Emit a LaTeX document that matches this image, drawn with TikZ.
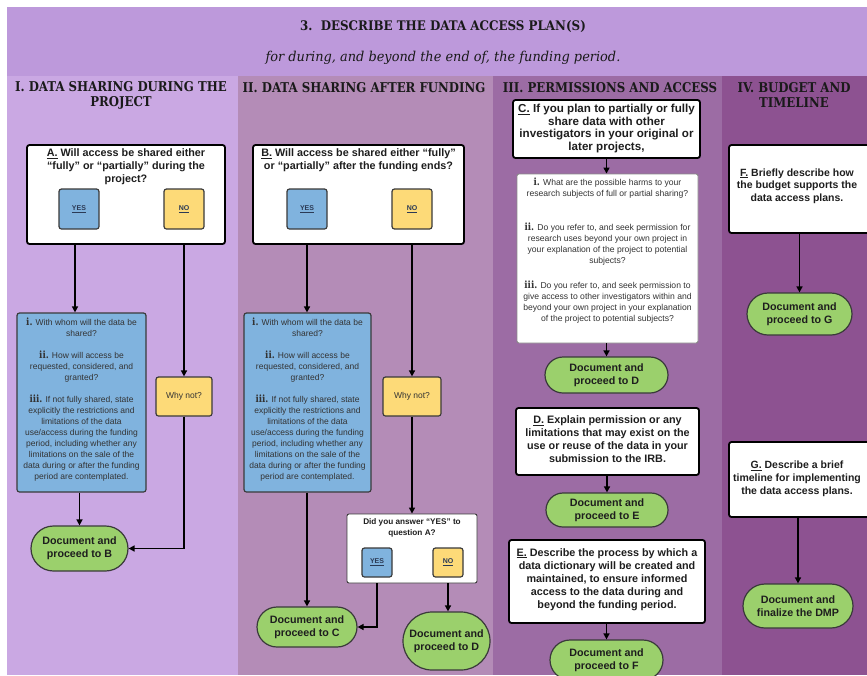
\documentclass[tikz,border=0pt]{standalone}
\usepackage{fontspec}
\setmainfont{Liberation Sans}
\newfontfamily\slabfont[FakeStretch=0.87]{DejaVu Serif}
\newfontfamily\titlefont[FakeStretch=0.9]{DejaVu Serif}
\newfontfamily\subfont[FakeStretch=0.95]{DejaVu Serif}
\usetikzlibrary{arrows.meta,shapes.misc}
\definecolor{hdr}{HTML}{BD99DB}
\definecolor{colA}{HTML}{CAA8E3}
\definecolor{colB}{HTML}{B48CB7}
\definecolor{colC}{HTML}{9C6CA4}
\definecolor{colD}{HTML}{8D5291}
\definecolor{bluebx}{HTML}{80B3DE}
\definecolor{yellbx}{HTML}{FDDA78}
\definecolor{greenbx}{HTML}{9BD06C}
\definecolor{edge}{HTML}{3A3A3A}
\definecolor{txt}{HTML}{1E1E1E}
\definecolor{txttwo}{HTML}{333333}
\definecolor{hdrtxt}{HTML}{1A1A1A}
\definecolor{btntxt}{HTML}{2B3A55}
\newcommand{\fs}[2]{\fontsize{#1}{#2}\selectfont}
\newcommand{\rn}[1]{{\slabfont\bfseries\fs{10}{11}#1}}
\begin{document}
\begin{tikzpicture}[x=1pt,y=-1pt,
  qbox/.style={draw=black,line width=1.8pt,fill=white,rounded corners=2.5pt,inner sep=0pt},
  subbox/.style={draw=edge,line width=0.9pt,fill=white,rounded corners=2pt,inner sep=0pt},
  bluebox/.style={draw=edge,line width=1.2pt,fill=bluebx,rounded corners=2.5pt,inner sep=0pt},
  yellbox/.style={draw=edge,line width=1.2pt,fill=yellbx,rounded corners=2.5pt,inner sep=0pt},
  docbox/.style={rounded rectangle,draw=edge,line width=1.2pt,fill=greenbx,inner sep=0pt,align=center,text=txt,font=\bfseries\fs{10.7}{13}},
  btntext/.style={font=\bfseries\fs{7}{8},text=btntxt},
  qtext/.style={align=center,text=txt,font=\bfseries\fs{10.8}{13}},
  smalltext/.style={align=center,text=txttwo,font=\fs{8.5}{11}},
  colhead/.style={align=center,text=hdrtxt,font=\slabfont\bfseries\fs{13.5}{15.5}},
  link/.style={line width=1.8pt,draw=black},
  arr/.style={link,-{Triangle[length=6pt,width=6pt]}},
]
\useasboundingbox (0,0) rectangle (867,675);
\clip (0,0) rectangle (867,675);
\fill[white] (0,0) rectangle (867,675);
% header and columns
\fill[hdr] (7,7) rectangle (867,76);
\fill[colA] (7,76) rectangle (238,675);
\fill[colB] (238,76) rectangle (493,675);
\fill[colC] (493,76) rectangle (722,675);
\fill[colD] (722,76) rectangle (867,675);
\node[text=hdrtxt,font=\titlefont\bfseries\fs{13.2}{15}] (title) at (443,27) {3.\ \ DESCRIBE THE DATA ACCESS PLAN(S)};
\node[text=hdrtxt,font=\subfont\itshape\fs{13.6}{15}] (subtitle) at (443,58) {for during, and beyond the end of, the funding period.};
\node[colhead] (h1) at (121,95.5) {I. DATA SHARING DURING THE\\PROJECT};
\node[colhead] (h2) at (364,87.5) {II. DATA SHARING AFTER FUNDING};
\node[colhead] (h3) at (610,87.5) {III. PERMISSIONS AND ACCESS};
\node[colhead] (h4) at (794,95) {IV. BUDGET AND\\TIMELINE};

% ---------- Column I ----------
\node[qbox,minimum width=198pt,minimum height=99pt] (A) at (126,194.5) {};
\node[qtext] (Atext) at (126,167) {\underline{A.} Will access be shared either\\``fully'' or ``partially'' during the\\project?};
\node[bluebox,minimum width=40pt,minimum height=40pt,btntext] (yes1) at (79,209) {\underline{YES}};
\node[yellbox,minimum width=40pt,minimum height=40pt,btntext] (no1) at (184,209) {\underline{NO}};
\node[bluebox,minimum width=129pt,minimum height=179pt] (blue1) at (81.5,402.5) {};
\node[smalltext] (blue1text) at (81.5,400) {\rn{i.} With whom will the data be\\shared?\\[11pt]
\rn{ii.} How will access be\\requested, considered, and\\granted?\\[11pt]
\rn{iii.} If not fully shared, state\\explicitly the restrictions and\\limitations of the data\\use/access during the funding\\period, including whether any\\limitations on the sale of the\\data during or after the funding\\period are contemplated.};
\node[yellbox,minimum width=56pt,minimum height=39pt,font=\fs{8.5}{10},text=txttwo] (why1) at (184,396.5) {Why not?};
\node[docbox,minimum width=97pt,minimum height=45pt] (docB) at (79.5,548.5) {Document and\\proceed to B};
\draw[arr] (A.south -| 75,0) -- (blue1.north -| 75,0);
\draw[arr] (A.south -| no1) -- (why1.north);
\draw[arr] (blue1.south -| docB.north) -- (docB.north);
\draw[arr] (why1.south) |- (docB.east);

% ---------- Column II ----------
\node[qbox,minimum width=211pt,minimum height=99pt] (B) at (358.5,194.5) {};
\node[qtext] (Btext) at (358.5,160.5) {\underline{B.} Will access be shared either ``fully''\\or ``partially'' after the funding ends?};
\node[bluebox,minimum width=40pt,minimum height=40pt,btntext] (yes2) at (307,209) {\underline{YES}};
\node[yellbox,minimum width=40pt,minimum height=40pt,btntext] (no2) at (412,209) {\underline{NO}};
\node[bluebox,minimum width=127pt,minimum height=179pt] (blue2) at (307.5,402.5) {};
\node[smalltext] (blue2text) at (307.5,400) {\rn{i.} With whom will the data be\\shared?\\[11pt]
\rn{ii.} How will access be\\requested, considered, and\\granted?\\[11pt]
\rn{iii.} If not fully shared, state\\explicitly the restrictions and\\limitations of the data\\use/access during the funding\\period, including whether any\\limitations on the sale of the\\data during or after the funding\\period are contemplated.};
\node[yellbox,minimum width=58pt,minimum height=39pt,font=\fs{8.5}{10},text=txttwo] (why2) at (412,396.5) {Why not?};
\node[subbox,minimum width=130pt,minimum height=69pt] (Q) at (412,548.5) {};
\node[align=center,text=txt,font=\bfseries\fs{8.2}{11}] (Qtext) at (412,527.5) {Did you answer ``YES'' to\\question A?};
\node[bluebox,minimum width=30pt,minimum height=29pt,btntext] (yes3) at (377,562.5) {\underline{YES}};
\node[yellbox,minimum width=30pt,minimum height=29pt,btntext] (no3) at (448,562.5) {\underline{NO}};
\node[docbox,minimum width=100pt,minimum height=40pt] (docC) at (307,627) {Document and\\proceed to C};
\node[docbox,minimum width=87pt,minimum height=58pt] (docD1) at (446.5,641) {Document and\\proceed to D};
\draw[arr] (B.south -| yes2) -- (blue2.north -| yes2);
\draw[arr] (B.south -| no2) -- (why2.north);
\draw[arr] (blue2.south -| docC.north) -- (docC.north);
\draw[arr] (why2.south) -- (Q.north -| why2.south);
\draw[arr] (Q.south -| yes3) |- (docC.east);
\draw[arr] (Q.south -| no3) -- (docD1.north -| no3);

% ---------- Column III ----------
\node[qbox,minimum width=187pt,minimum height=58pt] (C) at (606.5,129) {};
\node[qtext,font=\bfseries\fs{11.6}{12.4}] (Ctext) at (606.5,128.5) {\underline{C.} If you plan to partially or fully\\share data with other\\investigators in your original or\\later projects,};
\node[subbox,draw=edge!60,minimum width=181pt,minimum height=169pt] (inner) at (607.5,258.5) {};
\node[align=center,text=txttwo,font=\fs{8.6}{11}] (innertext) at (607.5,251) {\rn{i.} What are the possible harms to your\\research subjects of full or partial sharing?\\[23pt]
\rn{ii.} Do you refer to, and seek permission for\\research uses beyond your own project in\\your explanation of the project to potential\\subjects?\\[14pt]
\rn{iii.} Do you refer to, and seek permission to\\give access to other investigators within and\\beyond your own project in your explanation\\of the project to potential subjects?};
\node[docbox,minimum width=123pt,minimum height=36pt] (docD2) at (606.5,375) {Document and\\proceed to D};
\node[qbox,minimum width=183pt,minimum height=67pt] (D) at (607.5,441.5) {};
\node[qtext] (Dtext) at (607.5,439.5) {\underline{D.} Explain permission or any\\limitations that may exist on the\\use or reuse of the data in your\\submission to the IRB.};
\node[docbox,minimum width=122pt,minimum height=34pt] (docE) at (607,510) {Document and\\proceed to E};
\node[qbox,minimum width=196pt,minimum height=83pt] (E) at (607,581.5) {};
\node[qtext] (Etext) at (607,579.5) {\underline{E.} Describe the process by which a\\data dictionary will be created and\\maintained, to ensure informed\\access to the data during and\\beyond the funding period.};
\node[docbox,minimum width=113pt,minimum height=40pt] (docF) at (606.5,660) {Document and\\proceed to F};
\draw[arr] (C.south) -- (C.south |- inner.north);
\draw[arr] (inner.south -| docD2.north) -- (docD2.north);
\draw[arr] (D.south -| docE.north) -- (docE.north);
\draw[arr] (E.south -| docF.north) -- (docF.north);

% ---------- Column IV ----------
\node[qbox,minimum width=141pt,minimum height=88pt] (F) at (799.5,189) {};
\node[qtext,font=\bfseries\fs{10.5}{12.5}] (Ftext) at (797,186) {\underline{F.} Briefly describe how\\the budget supports the\\data access plans.};
\node[docbox,minimum width=105pt,minimum height=42pt] (docG) at (799.5,314) {Document and\\proceed to G};
\node[qbox,minimum width=141pt,minimum height=75pt] (G) at (799.5,479.5) {};
\node[qtext,font=\bfseries\fs{10.5}{12.8}] (Gtext) at (797,479) {\underline{G.} Describe a brief\\timeline for implementing\\the data access plans.};
\node[docbox,minimum width=110pt,minimum height=44pt] (docFin) at (798,606) {Document and\\finalize the DMP};
\draw[arr] (F.south -| docG.north) -- (docG.north);
\draw[arr] (G.south -| docFin.north) -- (docFin.north);
\end{tikzpicture}
\end{document}
